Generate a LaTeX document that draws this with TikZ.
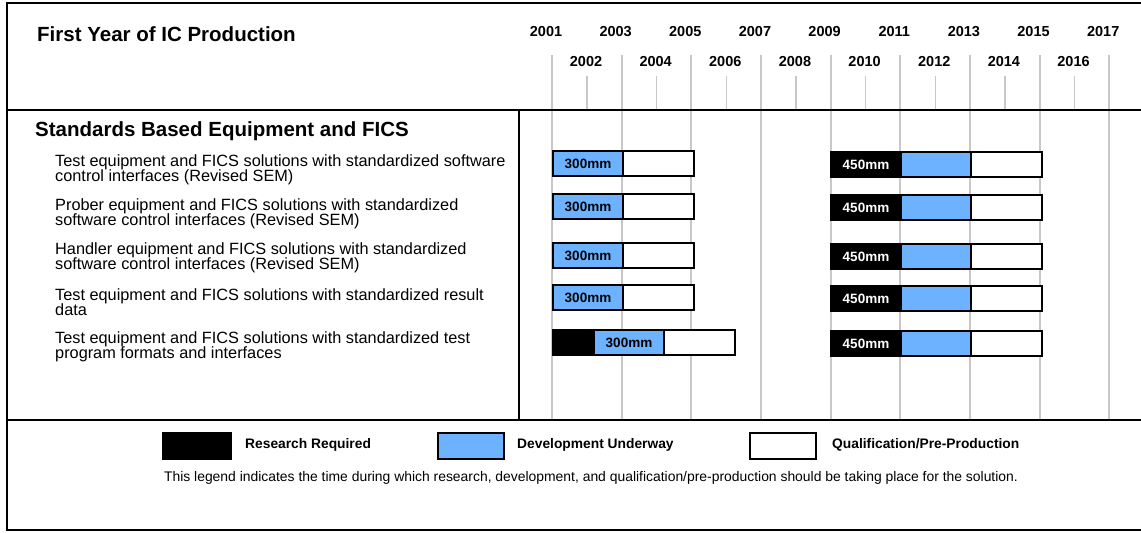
\documentclass[tikz,border=0pt]{standalone}
\usepackage{fontspec}
\setmainfont{Liberation Sans}
\definecolor{devblue}{RGB}{108,178,255}
\definecolor{gridgray}{RGB}{200,200,200}
\begin{document}
\begin{tikzpicture}[x=1pt,y=-1pt,
  frame/.style={line width=2.4pt,black},
  majorline/.style={line width=2pt,gridgray},
  minorline/.style={line width=1.3pt,gridgray},
  yr/.style={font=\fontsize{14.5}{15}\selectfont\bfseries,inner sep=0pt},
  heading/.style={font=\fontsize{20.5}{22}\selectfont\bfseries,inner sep=0pt,anchor=west},
  rowtext/.style={font=\fontsize{16.3}{15.5}\selectfont,inner sep=0pt,anchor=west,align=left},
  seg/.style={draw=black,line width=2pt,minimum height=25pt,inner sep=0pt,anchor=north west,
    font=\fontsize{13.5}{14}\selectfont\bfseries},
  resbox/.style={seg,fill=black,text=white},
  devbox/.style={seg,fill=devblue},
  qualbox/.style={seg,fill=white},
  legtext/.style={font=\fontsize{13.8}{14}\selectfont\bfseries,inner sep=0pt,anchor=west},
]
\useasboundingbox (0,0) rectangle (1141,533);
\fill[white] (0,0) rectangle (1141,533);

% year grid
\foreach \k in {0,...,8}{
  \draw[majorline] ({552+69.65*\k},55) -- ({552+69.65*\k},420);
}
\foreach \k in {0,...,7}{
  \draw[minorline] ({587+69.65*\k},76) -- ({587+69.65*\k},110);
}
\foreach \k/\y in {0/2001,1/2003,2/2005,3/2007,4/2009,5/2011,6/2013,7/2015,8/2017}{
  \node[yr] (y\y) at ({546+69.65*\k},32) {\y};
}
\foreach \k/\y in {0/2002,1/2004,2/2006,3/2008,4/2010,5/2012,6/2014,7/2016}{
  \node[yr] (y\y) at ({586+69.65*\k},62) {\y};
}

% frame
\draw[frame] (1141,3) -- (7,3) -- (7,530) -- (1141,530);
\draw[frame] (7,110) -- (1141,110);
\draw[frame] (7,420) -- (1141,420);
\draw[frame] (519,110) -- (519,420);

% headings
\node[heading] (title) at (37,34) {First Year of IC Production};
\node[heading] (group) at (35,131) {Standards Based Equipment and FICS};

% row descriptions
\node[rowtext] (t1) at (55,170) {Test equipment and FICS solutions with standardized software\\control interfaces (Revised SEM)};
\node[rowtext] (t2) at (55,214) {Prober equipment and FICS solutions with standardized\\software control interfaces (Revised SEM)};
\node[rowtext] (t3) at (55,258) {Handler equipment and FICS solutions with standardized\\software control interfaces (Revised SEM)};
\node[rowtext] (t4) at (55,302) {Test equipment and FICS solutions with standardized result\\data};
\node[rowtext] (t5) at (55,347) {Test equipment and FICS solutions with standardized test\\program formats and interfaces};

% 300mm bars
\foreach \r/\t in {1/150,2/193,3/242,4/284}{
  \node[devbox,minimum width=70pt] (a\r d) at (552,\t) {300mm};
  \node[qualbox,minimum width=71pt] (a\r q) at (622,\t) {};
}
\node[resbox,minimum width=41pt] (a5r) at (552,329) {};
\node[devbox,minimum width=70pt] (a5d) at (593,329) {300mm};
\node[qualbox,minimum width=71pt] (a5q) at (663,329) {};

% 450mm bars
\foreach \r/\t in {1/151,2/194,3/243,4/285,5/330}{
  \node[resbox,minimum width=70pt] (b\r r) at (830,\t) {450mm};
  \node[devbox,minimum width=70pt] (b\r d) at (900,\t) {};
  \node[qualbox,minimum width=71pt] (b\r q) at (970,\t) {};
}

% legend
\node[resbox,minimum width=68pt,minimum height=26pt] (lr) at (162,432) {};
\node[legtext] (lrt) at (245,445) {Research Required};
\node[devbox,minimum width=66pt,minimum height=26pt] (ld) at (437,432) {};
\node[legtext] (ldt) at (517,445) {Development Underway};
\node[qualbox,minimum width=66pt,minimum height=26pt] (lq) at (749,432) {};
\node[legtext] (lqt) at (832,445) {Qualification/Pre-Production};
\node[font=\fontsize{13.9}{14}\selectfont,inner sep=0pt] (note) at (591,478)
  {This legend indicates the time during which research, development, and qualification/pre-production should be taking place for the solution.};
\end{tikzpicture}
\end{document}
